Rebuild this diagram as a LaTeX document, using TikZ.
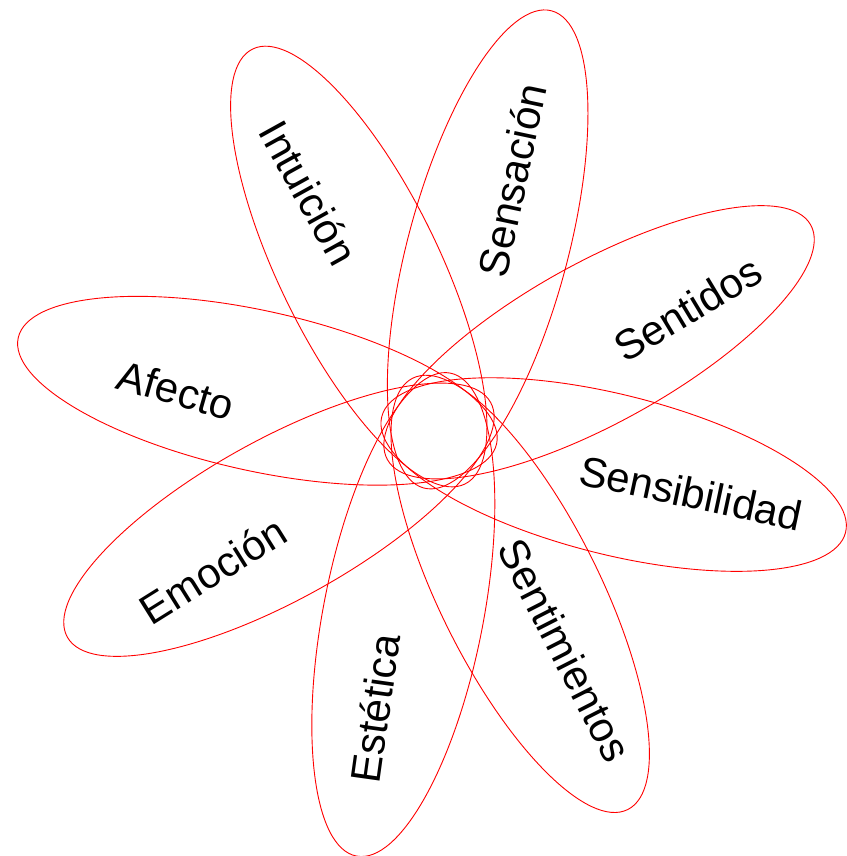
\documentclass[tikz,border=0pt]{standalone}
\usepackage{fontspec}
\setmainfont{Liberation Sans}
\begin{document}
\begin{tikzpicture}[x=1pt,y=1pt,
  petal/.style={draw=red, line width=0.9pt},
  lbl/.style={font=\fontsize{42}{50}\selectfont, inner sep=0pt, text=black}]
\useasboundingbox (0,0) rectangle (846,-856);
\coordinate (C) at (439,-431);
% petals
\draw[petal, shift={(C)}, rotate=75]    (188,0) ellipse [x radius=247pt, y radius=80pt];
\draw[petal, shift={(C)}, rotate=29]    (183,0) ellipse [x radius=242pt, y radius=80pt];
\draw[petal, shift={(C)}, rotate=116]   (183,0) ellipse [x radius=242pt, y radius=80pt];
\draw[petal, shift={(C)}, rotate=167.5] (186,0) ellipse [x radius=245pt, y radius=80pt];
\draw[petal, shift={(C)}, rotate=209]   (183,0) ellipse [x radius=242pt, y radius=80pt];
\draw[petal, shift={(C)}, rotate=259]   (187,0) ellipse [x radius=246pt, y radius=80pt];
\draw[petal, shift={(C)}, rotate=296.5] (182,0) ellipse [x radius=241pt, y radius=80pt];
\draw[petal, shift={(C)}, rotate=346]   (180,0) ellipse [x radius=239pt, y radius=80pt];
% labels
\node[lbl, rotate=-61] (intuicion) at (309,-193) {Intuición};
\node[lbl, rotate=78]  (sensacion) at (512,-180) {Sensación};
\node[lbl, rotate=31]  (sentidos) at (688,-309) {Sentidos};
\node[lbl, rotate=-12] (sensibilidad) at (691,-493) {Sensibilidad};
\node[lbl, rotate=-63] (sentimientos) at (565,-650) {Sentimientos};
\node[lbl, rotate=82]  (estetica) at (375,-708) {Estética};
\node[lbl, rotate=32]  (emocion) at (213,-570) {Emoción};
\node[lbl, rotate=-16] (afecto) at (176,-390) {Afecto};
\end{tikzpicture}
\end{document}
